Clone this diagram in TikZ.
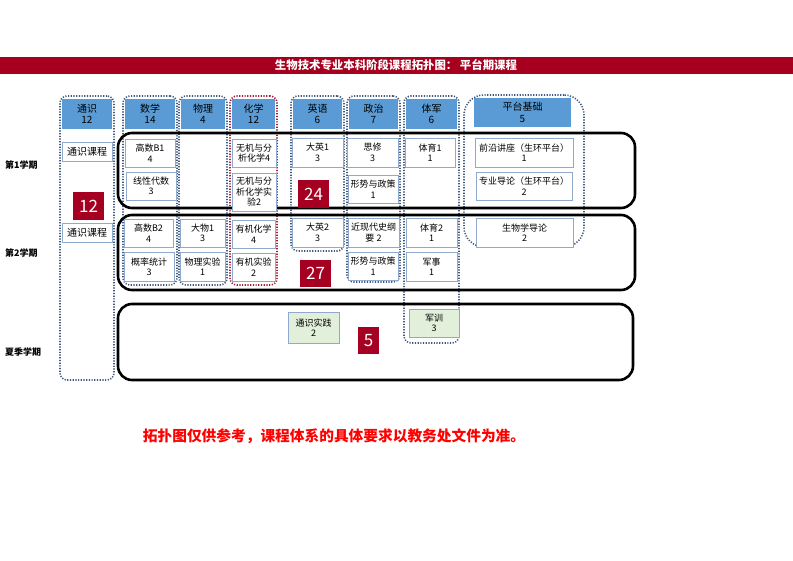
\documentclass[tikz,border=0pt]{standalone}
\usepackage{fontspec}
\setmainfont{Noto Sans CJK SC}
\definecolor{bannerred}{HTML}{A6001E}
\definecolor{hdrblue}{HTML}{5B9BD5}
\definecolor{cborder}{HTML}{8FAACC}
\definecolor{dotc}{HTML}{3F5A7E}
\definecolor{reddot}{HTML}{A0203A}
\definecolor{numred}{HTML}{A50021}
\definecolor{greenf}{HTML}{E2EFDA}
\definecolor{notered}{HTML}{FF0000}
\newcommand\mybox[7]{\node[#7, minimum width={(#4-#2)*1pt}, minimum height={(#5-#3)*1pt}] (#1) at ({(#2+#4)/2},{(#3+#5)/2}) {#6};}
\tikzset{
  coloutline/.style={draw=dotc, line width=1.6pt, dash pattern=on 1.2pt off 1.5pt, rounded corners=7pt, inner sep=0},
  redoutline/.style={coloutline, draw=reddot},
  bigoutline/.style={coloutline, rounded corners=20pt},
  hdr/.style={fill=hdrblue, draw=none, font=\fontsize{10}{11.5}\selectfont, align=center, inner sep=0},
  course/.style={draw=cborder, fill=white, line width=0.8pt, font=\fontsize{9}{10.5}\selectfont, align=center, inner sep=0},
  bigcourse/.style={course, font=\fontsize{10}{11}\selectfont},
  gcourse/.style={course, fill=greenf},
  numbox/.style={fill=numred, text=white, font=\fontsize{17}{17}\selectfont, inner sep=0},
  rowbox/.style={draw=black, line width=2.6pt, rounded corners=14pt, inner sep=0},
  semlabel/.style={font=\bfseries\fontsize{9}{9}\selectfont, anchor=west, inner sep=0},
}
\begin{document}
\begin{tikzpicture}[x=1pt,y=-1pt]
\useasboundingbox (0,0) rectangle (793,561);
% banner
\mybox{banner}{0}{57}{793}{74}{}{fill=bannerred, inner sep=0}
\node[text=white, font=\bfseries\fontsize{11.4}{11.4}\selectfont, inner sep=0] (title) at (396,65.5) {生物技术专业本科阶段课程拓扑图：\ 平台期课程};
% column outlines
\mybox{c1}{60}{96}{114}{380}{}{coloutline}
\mybox{c2}{123}{96}{177}{285}{}{coloutline}
\mybox{c3}{179}{96}{227}{285}{}{coloutline}
\mybox{c4}{230}{96}{277}{285}{}{redoutline}
\mybox{c5}{291}{96}{344}{251}{}{coloutline}
\mybox{c6}{347}{96}{400}{282}{}{coloutline}
\mybox{c7}{404}{96}{459}{343}{}{coloutline}
\mybox{c8}{464}{95}{584}{247}{}{bigoutline}
% row boxes
\mybox{r1}{118}{133}{635}{208}{}{rowbox}
\mybox{r2}{118}{215}{635}{290}{}{rowbox}
\mybox{r3}{118}{304}{633}{380}{}{rowbox}
% semester labels
\node[semlabel] (s1) at (5,165) {第1学期};
\node[semlabel] (s2) at (5,253) {第2学期};
\node[semlabel] (s3) at (5,352) {夏季学期};
% headers
\mybox{h1}{62}{99}{112}{129}{通识\\12}{hdr}
\mybox{h2}{125}{99}{175}{129}{数学\\14}{hdr}
\mybox{h3}{181}{99}{225}{129}{物理\\4}{hdr}
\mybox{h4}{232}{99}{275}{129}{化学\\12}{hdr}
\mybox{h5}{293}{99}{342}{129}{英语\\6}{hdr}
\mybox{h6}{349}{99}{398}{129}{政治\\7}{hdr}
\mybox{h7}{406}{99}{457}{129}{体军\\6}{hdr}
\mybox{h8}{474}{98}{571}{127}{平台基础\\5}{hdr}
% semester 1 courses
\mybox{t1}{62}{142}{112}{161}{通识课程}{bigcourse}
\mybox{m1}{125}{139}{175}{167}{高数B1\\4}{course}
\mybox{m2}{126}{172}{176}{200}{线性代数\\3}{course}
\mybox{k1}{232}{139}{276}{167}{无机与分\\析化学4}{course}
\mybox{k2}{232}{173}{276}{211}{无机与分\\析化学实\\验2}{course}
\mybox{e1}{292}{138}{343}{167}{大英1\\3}{course}
\mybox{p1}{347}{138}{398}{167}{思修\\3}{course}
\mybox{p2}{348}{175}{398}{203}{形势与政策\\1}{course}
\mybox{y1}{405}{138}{455}{167}{体育1\\1}{course}
\mybox{f1}{475}{138}{573}{167}{前沿讲座（生环平台）\\1}{course}
\mybox{f2}{476}{172}{572}{200}{专业导论（生环平台）\\2}{course}
% semester 2 courses
\mybox{t2}{62}{223}{112}{242}{通识课程}{bigcourse}
\mybox{m3}{124}{219}{173}{247}{高数B2\\4}{course}
\mybox{m4}{124}{252}{174}{281}{概率统计\\3}{course}
\mybox{w1}{180}{219}{225}{247}{大物1\\3}{course}
\mybox{w2}{180}{252}{225}{281}{物理实验\\1}{course}
\mybox{k3}{232}{220}{275}{248}{有机化学\\4}{course}
\mybox{k4}{232}{253}{275}{281}{有机实验\\2}{course}
\mybox{e2}{292}{218}{343}{247}{大英2\\3}{course}
\mybox{p3}{348}{218}{399}{247}{近现代史纲\\要 2}{course}
\mybox{p4}{348}{252}{398}{280}{形势与政策\\1}{course}
\mybox{y2}{406}{218}{457}{247}{体育2\\1}{course}
\mybox{y3}{406}{252}{457}{281}{军事\\1}{course}
\mybox{f3}{476}{218}{573}{247}{生物学导论\\2}{course}
% summer
\mybox{g1}{288}{312}{339}{343}{通识实践\\2}{gcourse}
\mybox{g2}{409}{309}{459}{337}{军训\\3}{gcourse}
% numbers
\mybox{n1}{73}{192}{104}{220}{12}{numbox}
\mybox{n2}{298}{180}{329}{208}{24}{numbox}
\mybox{n3}{300}{260}{331}{287}{27}{numbox}
\mybox{n4}{358}{327}{379}{354}{5}{numbox}
% note
\node[text=notered, font=\bfseries\fontsize{14.7}{14.7}\selectfont, inner sep=0] (note) at (334,436) {拓扑图仅供参考，课程体系的具体要求以教务处文件为准。};
\end{tikzpicture}
\end{document}
